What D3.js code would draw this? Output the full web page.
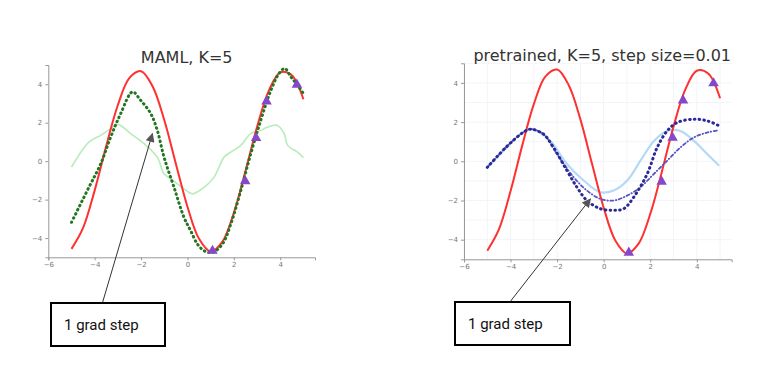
<!DOCTYPE html>
<html>
<head>
<meta charset="utf-8">
<script src="https://cdn.jsdelivr.net/npm/d3@7"></script>
<style>
  body { margin: 0; background: #fff; }
  svg { display: block; }
  .tick text { font-family: "DejaVu Sans", sans-serif; font-size: 7px; fill: #777; }
  .tick line, .domain { stroke: #999; }
</style>
</head>
<body>
<div id="container"></div>
<script>
const trueX = [-5, -4.5, -4, -3.5, -3, -2.5, -2, -1.5, -1, -0.5, 0, 0.5, 1, 1.5, 2, 2.5, 3, 3.5, 4, 4.5, 5];
const trueY = [-4.56, -3.47, -1.52, 0.80, 2.92, 4.33, 4.68, 3.88, 2.14, -0.13, -2.37, -4.04, -4.70, -4.20, -2.69, -0.53, 1.77, 3.64, 4.62, 4.47, 3.22];

// the K=5 sampled points (triangles)
const sampleX = [1.08, 2.49, 2.96, 3.41, 4.72];
const sampleY = [-4.66, -1.04, 1.2, 3.11, 3.98];

// MAML pre-update (light green)
const mamlPreX = [-5.0, -4.25, -3.74, -3.31, -3.0, -2.45, -1.87, -1.3, -1.01, -0.72, -0.43, -0.15, 0.22, 0.72, 1.15, 1.58, 1.87, 2.3, 2.73, 3.16, 3.45, 3.88, 4.17, 4.32, 4.75, 5.0];
const mamlPreY = [-0.31, 0.99, 1.34, 1.69, 1.91, 1.43, 0.91, 0.21, -0.66, -0.92, -1.18, -1.44, -1.70, -1.36, -0.83, 0.21, 0.47, 0.82, 1.43, 1.6, 1.77, 1.86, 1.43, 0.82, 0.47, 0.18];

// MAML after 1 grad step (dark green dotted)
const mamlStepX = [-5.0, -4.25, -3.74, -3.31, -2.88, -2.37, -2.02, -1.58, -1.3, -1.01, -0.58, -0.15, 0.14, 0.43, 0.72, 1.08, 1.51, 1.87, 2.3, 2.73, 3.16, 3.6, 3.95, 4.2, 4.46, 4.75, 5.0];
const mamlStepY = [-3.18, -1.36, -0.14, 1.25, 2.47, 3.6, 3.17, 2.47, 1.6, 0.21, -1.36, -2.92, -3.62, -4.31, -4.66, -4.75, -4.31, -3.27, -1.53, 0.38, 2.12, 3.69, 4.56, 4.82, 4.38, 3.95, 3.52];

// pretrained pre-update (light blue)
const preX = [-5.0, -4.16, -3.59, -3.09, -2.3, -1.58, -0.86, -0.14, 0.43, 1.01, 1.58, 2.16, 2.73, 3.3, 3.88, 4.46, 4.96];
const preY = [-0.31, 0.71, 1.39, 1.64, 1.04, -0.14, -0.98, -1.58, -1.49, -0.98, 0.03, 1.04, 1.55, 1.55, 1.04, 0.36, -0.23];

// pretrained after 1 grad step (thick dark blue dotted)
const preStepX = [-5.0, -4.16, -3.45, -3.16, -2.59, -2.16, -1.58, -1.15, -0.72, -0.14, 0.43, 0.86, 1.29, 1.87, 2.3, 2.73, 3.16, 3.88, 4.46, 4.96];
const preStepY = [-0.31, 0.76, 1.48, 1.64, 1.39, 0.71, -0.47, -1.32, -2.0, -2.42, -2.5, -2.42, -1.83, -0.64, 0.71, 1.55, 1.98, 2.15, 2.06, 1.81];

// pretrained after more steps (thin dash-dot)
const preStep10X = [-5.0, -4.16, -3.45, -3.16, -2.59, -2.0, -1.29, -0.72, -0.14, 0.43, 1.01, 1.58, 2.16, 2.73, 3.3, 3.88, 4.46, 4.96];
const preStep10Y = [-0.31, 0.76, 1.48, 1.64, 1.39, 0.36, -0.81, -1.49, -1.92, -2.0, -1.75, -1.32, -0.64, 0.03, 0.71, 1.22, 1.47, 1.59];

const xTicks = [-6, -4, -2, 0, 2, 4];
const yTicks = [-4, -2, 0, 2, 4];

const zip = (xs, ys) => xs.map((x, i) => ({ x, y: ys[i] }));

const width = 762;
const height = 377;

const svg = d3.select('#container').append('svg')
  .attr('width', width)
  .attr('height', height);

const defs = svg.append('defs');
defs.append('marker')
  .attr('id', 'head')
  .attr('viewBox', '0 0 10 10')
  .attr('refX', 9)
  .attr('refY', 5)
  .attr('markerWidth', 10)
  .attr('markerHeight', 9)
  .attr('markerUnits', 'userSpaceOnUse')
  .attr('orient', 'auto')
  .append('path')
  .attr('d', 'M0,0 L10,5 L0,10 z')
  .attr('fill', '#555');

function panel(cfg) {
  const x = d3.scaleLinear().domain([-6, 5.5]).range([cfg.left, cfg.right]);
  const y = d3.scaleLinear().domain([-5, 5]).range([cfg.bottom, cfg.top]);
  const g = svg.append('g');

  if (cfg.grid) {
    g.selectAll('.gx').data(d3.range(-6, 6, 1)).enter().append('line')
      .attr('x1', d => x(d)).attr('x2', d => x(d))
      .attr('y1', y(-5)).attr('y2', y(5))
      .attr('stroke', '#f3f4f7');
    g.selectAll('.gy').data(d3.range(-5, 6, 1)).enter().append('line')
      .attr('x1', x(-6)).attr('x2', x(5.5))
      .attr('y1', d => y(d)).attr('y2', d => y(d))
      .attr('stroke', '#f3f4f7');
  }

  g.append('g')
    .attr('transform', `translate(0, ${cfg.bottom})`)
    .call(d3.axisBottom(x).tickValues(xTicks).tickSize(3).tickPadding(2).tickFormat(d3.format('d')));
  g.append('g')
    .attr('transform', `translate(${cfg.left}, 0)`)
    .call(d3.axisLeft(y).tickValues(yTicks).tickSize(3).tickPadding(3).tickFormat(d3.format('d')));

  const smooth = d3.line().x(d => x(d.x)).y(d => y(d.y)).curve(d3.curveCatmullRom);

  cfg.series.forEach(s => {
    g.append('path')
      .datum(zip(s.xs, s.ys))
      .attr('d', smooth)
      .attr('fill', 'none')
      .attr('stroke', s.color)
      .attr('stroke-width', s.w)
      .attr('stroke-dasharray', s.dash || null)
      .attr('stroke-linecap', s.cap || 'butt')
      .attr('stroke-linejoin', 'round');
  });

  g.selectAll('.pt')
    .data(zip(sampleX, sampleY))
    .enter()
    .append('path')
    .attr('d', d3.symbol(d3.symbolTriangle, 48))
    .attr('transform', d => `translate(${x(d.x)}, ${y(d.y)})`)
    .attr('fill', '#8548c8');

  g.append('text')
    .attr('x', cfg.titleX)
    .attr('y', cfg.titleY)
    .attr('text-anchor', 'middle')
    .attr('font-family', 'DejaVu Sans, sans-serif')
    .attr('font-size', 16)
    .attr('fill', '#333')
    .text(cfg.title);

  // annotation box + arrow
  const b = cfg.box;
  svg.append('rect')
    .attr('x', b.x).attr('y', b.y)
    .attr('width', b.w).attr('height', b.h)
    .attr('fill', '#fff')
    .attr('stroke', '#000')
    .attr('stroke-width', 2);
  svg.append('text')
    .attr('x', b.x + 13).attr('y', b.y + 27)
    .attr('font-family', 'Roboto, sans-serif')
    .attr('font-size', 15)
    .attr('fill', '#111')
    .text('1 grad step');
  svg.append('line')
    .attr('x1', b.ax).attr('y1', b.y - 1)
    .attr('x2', x(cfg.tip[0])).attr('y2', y(cfg.tip[1]))
    .attr('stroke', '#333')
    .attr('stroke-width', 1)
    .attr('marker-end', 'url(#head)');
}

panel({
  left: 48.3, right: 315, top: 65, bottom: 257.3,
  title: 'MAML, K=5', titleX: 186.7, titleY: 62.5,
  tip: [-1.51, 1.43],
  box: { x: 51, y: 303, w: 114, h: 43, ax: 102.7 },
  series: [
    { xs: mamlPreX, ys: mamlPreY, color: '#b8ecb8', w: 1.6 },
    { xs: trueX, ys: trueY, color: '#ff3030', w: 2 },
    { xs: mamlStepX, ys: mamlStepY, color: '#237523', w: 3, dash: '0.6,4', cap: 'round' }
  ]
});

panel({
  left: 464, right: 731.7, top: 63.3, bottom: 259.3, grid: true,
  title: 'pretrained, K=5, step size=0.01', titleX: 602.2, titleY: 60.7,
  tip: [-0.57, -1.92],
  box: { x: 455, y: 302, w: 115, h: 43, ax: 510.7 },
  series: [
    { xs: preX, ys: preY, color: '#b3d9f7', w: 2.2 },
    { xs: trueX, ys: trueY, color: '#ff3030', w: 2 },
    { xs: preStep10X, ys: preStep10Y, color: '#5555c0', w: 1.8, dash: '3,2.5,0.5,2.5', cap: 'round' },
    { xs: preStepX, ys: preStepY, color: '#2a2a95', w: 3, dash: '0.6,4.2', cap: 'round' }
  ]
});
</script>
</body>
</html>
